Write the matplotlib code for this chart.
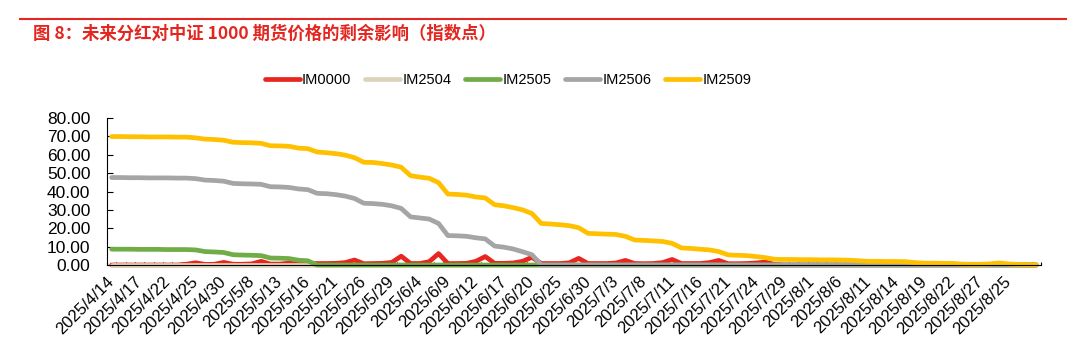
import numpy as np
import matplotlib.pyplot as plt
from matplotlib.lines import Line2D

plt.rcParams['font.family'] = ['Liberation Sans', 'DejaVu Sans']

title = "图 8：未来分红对中证 1000 期货价格的剩余影响（指数点）"
series_names = ["IM0000", "IM2504", "IM2505", "IM2506", "IM2509"]
series_colors = ["#E8251E", "#DDD3BC", "#70AD47", "#A5A5A5", "#FFC000"]

# every third trading day is labelled (100 trading days in total)
tick_labels = ["2025/4/14", "2025/4/17", "2025/4/22", "2025/4/25", "2025/4/30",
               "2025/5/8", "2025/5/13", "2025/5/16", "2025/5/21", "2025/5/26",
               "2025/5/29", "2025/6/4", "2025/6/9", "2025/6/12", "2025/6/17",
               "2025/6/20", "2025/6/25", "2025/6/30", "2025/7/3", "2025/7/8",
               "2025/7/11", "2025/7/16", "2025/7/21", "2025/7/24", "2025/7/29",
               "2025/8/1", "2025/8/6", "2025/8/11", "2025/8/14", "2025/8/19",
               "2025/8/22", "2025/8/27", "2025/8/25"]
n_days = 100

im0000 = [0.0, 0.0, 0.0, 0.0, 0.0, 0.0, 0.0, 0.0, 0.4, 1.2,
          0.3, 0.4, 1.4, 0.4, 0.4, 0.6, 2.0, 0.5, 0.5, 1.0,
          0.5, 0.7, 0.8, 0.8, 0.9, 1.3, 2.7, 0.7, 0.8, 0.9,
          1.4, 4.8, 0.8, 0.8, 1.8, 6.2, 0.8, 0.8, 0.9, 2.0,
          4.6, 0.9, 0.9, 1.1, 2.0, 4.2, 0.8, 0.8, 0.8, 1.2,
          3.6, 0.8, 0.8, 0.8, 1.1, 2.5, 0.8, 0.7, 0.8, 1.3,
          3.0, 0.8, 0.8, 0.8, 1.3, 2.5, 0.7, 0.7, 0.8, 1.1,
          1.6, 0.3, 0.0, 0.0, 0.0, 0.0, 0.0, 0.0, 0.0, 0.0,
          0.0, 0.0, 0.0, 0.0, 0.0, 0.0, 0.0, 0.0, 0.0, 0.0,
          0.0, 0.0, 0.0, 0.0, 0.0, 0.0, 0.0, 0.0, 0.0, 0.0]
im2504 = [0.0] * n_days
im2505 = [8.6, 8.6, 8.6, 8.5, 8.5, 8.5, 8.4, 8.4, 8.4, 8.2,
          7.3, 7.1, 6.8, 5.6, 5.4, 5.3, 5.1, 3.8, 3.7, 3.5,
          2.6, 2.3] + [0.0] * 78
im2506 = [47.6, 47.6, 47.5, 47.5, 47.4, 47.4, 47.4, 47.3, 47.3, 47.0,
          46.2, 46.0, 45.6, 44.4, 44.2, 44.1, 43.9, 42.6, 42.5, 42.2,
          41.4, 41.0, 39.0, 38.8, 38.3, 37.5, 36.2, 33.6, 33.4, 33.0,
          32.2, 30.8, 26.2, 25.6, 25.0, 22.6, 16.0, 15.9, 15.6, 14.8,
          14.2, 10.3, 9.7, 8.7, 7.2, 5.6] + [0.0] * 54
im2509 = [69.9, 69.9, 69.8, 69.8, 69.7, 69.7, 69.7, 69.6, 69.6, 69.2,
          68.5, 68.3, 67.9, 66.8, 66.6, 66.5, 66.2, 64.9, 64.8, 64.6,
          63.6, 63.3, 61.5, 61.1, 60.6, 59.8, 58.4, 55.9, 55.8, 55.2,
          54.4, 53.2, 48.6, 47.8, 47.2, 44.8, 38.6, 38.4, 38.0, 37.0,
          36.5, 32.8, 32.2, 31.2, 30.0, 28.0, 22.6, 22.3, 21.9, 21.4,
          20.3, 17.2, 17.0, 16.8, 16.6, 15.6, 13.6, 13.4, 13.1, 12.8,
          11.8, 9.3, 9.0, 8.6, 8.2, 7.3, 5.5, 5.3, 5.1, 4.6,
          4.0, 3.1, 3.0, 3.0, 2.9, 2.9, 2.8, 2.8, 2.7, 2.6,
          2.3, 2.0, 2.0, 1.9, 1.9, 1.8, 1.3, 1.0, 1.0, 0.9,
          0.9, 0.5, 0.4, 0.4, 0.6, 1.1, 0.6, 0.3, 0.2, 0.1]

all_series = [im0000, im2504, im2505, im2506, im2509]

fig = plt.figure(figsize=(10.67, 3.64), dpi=100)
ax = fig.add_axes([107 / 1067, 1 - 265 / 364, (1041 - 107) / 1067, (265 - 118) / 364])

x = np.arange(n_days)
for name, color, vals in zip(series_names, series_colors, all_series):
    ax.plot(x, vals, color=color, lw=3.4, label=name, clip_on=False,
            solid_joinstyle='round', solid_capstyle='round')

ax.set_xlim(-0.5, n_days - 0.5)
ax.set_ylim(0, 80)
ax.set_yticks(np.arange(0, 81, 10))
ax.set_yticklabels([f"{v:.2f}" for v in np.arange(0, 81, 10)], fontsize=12.5)
ax.tick_params(axis='y', direction='in', length=4.3, width=0.8, pad=12)

ax.set_xticks(np.arange(0, 3 * len(tick_labels), 3))
ax.set_xticklabels(tick_labels, rotation=45, ha='right', va='center',
                   rotation_mode='anchor', fontsize=12)
ax.tick_params(axis='x', which='major', length=0, pad=10)
ax.set_xticks(np.arange(-0.5, n_days, 1), minor=True)
ax.tick_params(axis='x', which='minor', direction='in', length=2.2, width=0.8)

for side in ['top', 'right']:
    ax.spines[side].set_visible(False)
for side in ['left', 'bottom']:
    ax.spines[side].set_linewidth(0.8)
    ax.spines[side].set_color('black')

fig.legend(loc='center', bbox_to_anchor=(508 / 1067, 1 - 80 / 364), ncol=5,
           frameon=False, fontsize=10.5, handlelength=2.4, handletextpad=0.15,
           columnspacing=0.95)

fig.text(33 / 1067, 1 - 34 / 364, title, color='#E3261F', fontsize=12.5,
         fontweight='bold', family=['Noto Sans CJK SC', 'DejaVu Sans'],
         va='center', ha='left')
fig.add_artist(Line2D([20 / 1067, 1], [1 - 18.5 / 364] * 2, color='#E3261F', lw=1.5))

fig.savefig("out.png", dpi=100)
